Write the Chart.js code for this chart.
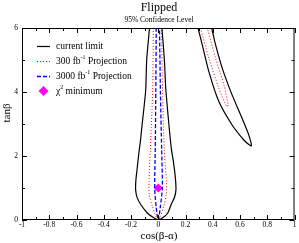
<!DOCTYPE html>
<html>
<head>
<meta charset="utf-8">
<script src="https://cdn.jsdelivr.net/npm/chart.js@4.4.1/dist/chart.umd.min.js"></script>
<style>
  html, body { margin: 0; padding: 0; background: #fff; }
  #wrap { width: 299px; height: 243px; }
</style>
</head>
<body>
<div id="wrap"><canvas id="chart" width="299" height="243"></canvas></div>
<script>
// axis ticks
const xTicks = [-1, -0.8, -0.6, -0.4, -0.2, 0, 0.2, 0.4, 0.6, 0.8, 1];
const xMinorTicks = [-0.9, -0.7, -0.5, -0.3, -0.1, 0.1, 0.3, 0.5, 0.7, 0.9];
const yTicks = [0, 2, 4, 6];
const yMinorTicks = [1, 3, 5];

// series labels (main text, superscript, rest)
const seriesLabels = ["current limit", "300 fb-1 Projection", "3000 fb-1 Projection", "χ2 minimum"];
const legendParts = [
  ["current limit", "", ""],
  ["300 fb", "-1", " Projection"],
  ["3000 fb", "-1", " Projection"],
  ["χ", "2", " minimum"]
];

// current limit, central band (x = cos(beta-alpha), y = tan beta)
const currentCentral = [
  {x: -0.064, y: 6}, {x: -0.075, y: 5.5}, {x: -0.085, y: 5}, {x: -0.092, y: 4.06},
  {x: -0.105, y: 3.5}, {x: -0.118, y: 3}, {x: -0.13, y: 2.5}, {x: -0.142, y: 2.1},
  {x: -0.155, y: 1.6}, {x: -0.164, y: 1.25}, {x: -0.166, y: 0.95}, {x: -0.155, y: 0.7},
  {x: -0.126, y: 0.47}, {x: -0.08, y: 0.22}, {x: -0.03, y: 0.06}, {x: 0, y: 0},
  {x: 0.03, y: 0.06}, {x: 0.07, y: 0.22}, {x: 0.093, y: 0.47}, {x: 0.12, y: 0.72},
  {x: 0.13, y: 0.95}, {x: 0.126, y: 1.3}, {x: 0.112, y: 1.8}, {x: 0.097, y: 2.2},
  {x: 0.08, y: 2.9}, {x: 0.056, y: 4.06}, {x: 0.045, y: 5}, {x: 0.027, y: 6}
];
// current limit, right-hand band
const currentSide = [
  {x: 0.292, y: 6}, {x: 0.323, y: 5.47}, {x: 0.372, y: 4.63}, {x: 0.445, y: 3.7},
  {x: 0.542, y: 2.97}, {x: 0.628, y: 2.5}, {x: 0.665, y: 2.36}, {x: 0.684, y: 2.32},
  {x: 0.664, y: 2.66}, {x: 0.615, y: 3.18}, {x: 0.542, y: 3.91}, {x: 0.47, y: 4.74},
  {x: 0.421, y: 5.47}, {x: 0.392, y: 6}
];
// 300 fb-1 projection
const proj300Central = [
  {x: -0.036, y: 6}, {x: -0.041, y: 4.06}, {x: -0.058, y: 2.2}, {x: -0.068, y: 1.2},
  {x: -0.066, y: 0.8}, {x: -0.045, y: 0.45}, {x: -0.015, y: 0.1}, {x: 0, y: 0},
  {x: 0.015, y: 0.1}, {x: 0.042, y: 0.45}, {x: 0.058, y: 0.8}, {x: 0.06, y: 1.2},
  {x: 0.044, y: 2.2}, {x: 0.032, y: 4.06}, {x: 0.024, y: 6}
];
const proj300Side = [
  {x: 0.31, y: 6}, {x: 0.372, y: 5.05}, {x: 0.445, y: 4.12}, {x: 0.49, y: 3.65},
  {x: 0.506, y: 3.54}, {x: 0.513, y: 3.59}, {x: 0.482, y: 4.22}, {x: 0.421, y: 5.05},
  {x: 0.36, y: 6}
];
// 3000 fb-1 projection
const proj3000Central = [
  {x: -0.015, y: 6}, {x: -0.018, y: 4}, {x: -0.022, y: 2.2}, {x: -0.026, y: 1.0},
  {x: -0.015, y: 0.4}, {x: 0, y: 0}, {x: 0.015, y: 0.4}, {x: 0.03, y: 1.0},
  {x: 0.025, y: 2.2}, {x: 0.016, y: 4}, {x: 0.009, y: 6}
];
// chi^2 minimum
const chi2Min = [{x: 0, y: 1}];

const serif = "'Liberation Serif', 'DejaVu Serif', serif";

function lineSet(label, data, color, width, dash) {
  return {
    type: "line",
    label: label,
    data: data,
    borderColor: color,
    borderWidth: width,
    borderDash: dash,
    pointRadius: 0,
    fill: false,
    tension: 0.25
  };
}

// title, frame, inward ticks, axis titles and legend
const decorations = {
  id: "decorations",
  afterDatasetsDraw(chart) {
    const ctx = chart.ctx;
    const a = chart.chartArea;
    const x = chart.scales.x;
    const y = chart.scales.y;

    ctx.save();
    ctx.strokeStyle = "#000";
    ctx.lineWidth = 1;
    ctx.strokeRect(a.left + 0.5, a.top + 0.5, a.right - a.left - 1, a.bottom - a.top - 1);

    ctx.beginPath();
    const tick = (v, len, horiz) => {
      if (horiz) {
        const px = Math.round(x.getPixelForValue(v)) + 0.5;
        ctx.moveTo(px, a.bottom); ctx.lineTo(px, a.bottom - len);
        ctx.moveTo(px, a.top); ctx.lineTo(px, a.top + len);
      } else {
        const py = Math.round(y.getPixelForValue(v)) + 0.5;
        ctx.moveTo(a.left, py); ctx.lineTo(a.left + len, py);
        ctx.moveTo(a.right, py); ctx.lineTo(a.right - len, py);
      }
    };
    xTicks.forEach(v => tick(v, 5, true));
    xMinorTicks.forEach(v => tick(v, 3, true));
    yTicks.forEach(v => tick(v, 5, false));
    yMinorTicks.forEach(v => tick(v, 3, false));
    ctx.stroke();

    ctx.fillStyle = "#000";
    ctx.textAlign = "center";
    ctx.textBaseline = "middle";
    ctx.font = "12px " + serif;
    ctx.fillText("Flipped", 159, 8);
    ctx.font = "7.5px " + serif;
    ctx.fillText("95% Confidence Level", 159, 20);

    ctx.font = "11px " + serif;
    ctx.fillText("cos(β-α)", 159, 236);
    ctx.save();
    ctx.translate(7, 113);
    ctx.rotate(-Math.PI / 2);
    ctx.fillText("tanβ", 0, 0);
    ctx.restore();

    // legend
    const rows = [46, 61, 76, 91];
    const ds = chart.data.datasets;
    const samples = [ds[0], ds[2], ds[4], ds[5]];
    ctx.textAlign = "left";
    samples.forEach((d, i) => {
      const ry = rows[i];
      if (i < 3) {
        ctx.beginPath();
        ctx.strokeStyle = d.borderColor;
        ctx.lineWidth = d.borderWidth;
        ctx.setLineDash(d.borderDash || []);
        ctx.moveTo(37, ry + 0.5);
        ctx.lineTo(50, ry + 0.5);
        ctx.stroke();
        ctx.setLineDash([]);
      } else {
        ctx.fillStyle = d.backgroundColor;
        ctx.beginPath();
        ctx.moveTo(43.5, ry - 5); ctx.lineTo(48.5, ry); ctx.lineTo(43.5, ry + 5); ctx.lineTo(38.5, ry);
        ctx.closePath();
        ctx.fill();
      }
      ctx.fillStyle = "#000";
      const parts = legendParts[i];
      let tx = 56;
      ctx.font = "9.5px " + serif;
      ctx.fillText(parts[0], tx, ry);
      tx += ctx.measureText(parts[0]).width;
      if (parts[1]) {
        ctx.font = "6px " + serif;
        ctx.fillText(parts[1], tx, ry - 4);
        tx += ctx.measureText(parts[1]).width;
        ctx.font = "9.5px " + serif;
        ctx.fillText(parts[2], tx, ry);
      }
    });
    ctx.restore();
  }
};

new Chart(document.getElementById("chart").getContext("2d"), {
  type: "scatter",
  data: {
    datasets: [
      lineSet(seriesLabels[0], currentCentral, "#000000", 1.2, []),
      lineSet(seriesLabels[0], currentSide, "#000000", 1.2, []),
      lineSet(seriesLabels[1], proj300Central, "#ff0000", 1, [1, 2]),
      lineSet(seriesLabels[1], proj300Side, "#ff0000", 1, [1, 2]),
      lineSet(seriesLabels[2], proj3000Central, "#0000ff", 1.3, [4, 2]),
      {
        type: "scatter",
        label: seriesLabels[3],
        data: chi2Min,
        pointStyle: "rectRot",
        pointRadius: 4.5,
        backgroundColor: "#ff00ff",
        borderColor: "#ff00ff",
        borderWidth: 0
      }
    ]
  },
  options: {
    responsive: false,
    animation: false,
    layout: { padding: { top: 28, right: 3, left: 0, bottom: 0 } },
    plugins: {
      legend: { display: false },
      tooltip: { enabled: false }
    },
    scales: {
      x: {
        type: "linear",
        min: -1,
        max: 1,
        afterBuildTicks: s => { s.ticks = xTicks.map(v => ({ value: v })); },
        afterFit: s => { s.height = 23; },
        grid: { display: false, drawTicks: false },
        border: { display: false },
        ticks: {
          padding: 1,
          color: "#000",
          font: { family: serif, size: 7.5 },
          callback: v => String(v)
        }
      },
      y: {
        type: "linear",
        min: 0,
        max: 6,
        afterBuildTicks: s => { s.ticks = yTicks.map(v => ({ value: v })); },
        afterFit: s => { s.width = 22; },
        grid: { display: false, drawTicks: false },
        border: { display: false },
        ticks: {
          padding: 4,
          color: "#000",
          font: { family: serif, size: 7.5 },
          callback: v => String(v)
        }
      }
    }
  },
  plugins: [decorations]
});
</script>
</body>
</html>
